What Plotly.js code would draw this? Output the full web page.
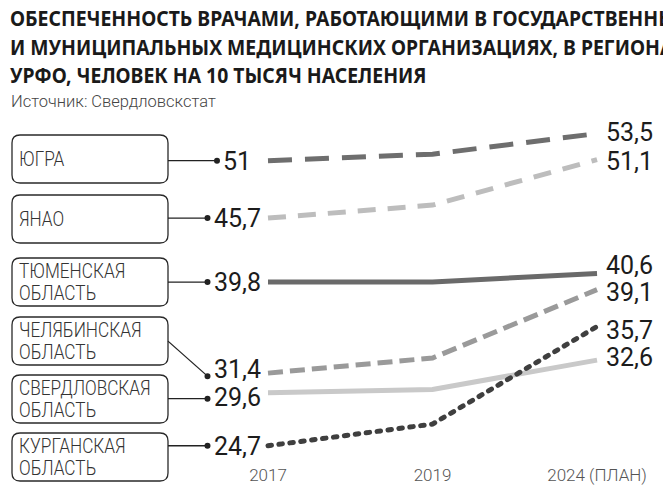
<!DOCTYPE html>
<html>
<head>
<meta charset="utf-8">
<script src="https://cdn.plot.ly/plotly-3.0.1.min.js"></script>
<style>
html,body{margin:0;padding:0;background:#fff;overflow:hidden;}
#chart{width:663px;height:491px;}
</style>
</head>
<body>
<div id="chart"></div>
<script>
// ---- data ----
var years = ['2017', '2019', '2024 (ПЛАН)'];
var regions = ['ЮГРА', 'ЯНАО', 'ТЮМЕНСКАЯ ОБЛАСТЬ', 'ЧЕЛЯБИНСКАЯ ОБЛАСТЬ', 'СВЕРДЛОВСКАЯ ОБЛАСТЬ', 'КУРГАНСКАЯ ОБЛАСТЬ'];
var ugra = [51, 51.6, 53.5];
var yanao = [45.7, 46.9, 51.1];
var tyumen = [39.8, 39.8, 40.6];
var chelyabinsk = [31.4, 32.8, 39.1];
var sverdlovsk = [29.6, 29.9, 32.6];
var kurgan = [24.7, 26.7, 35.7];
var titleText = 'ОБЕСПЕЧЕННОСТЬ ВРАЧАМИ, РАБОТАЮЩИМИ В ГОСУДАРСТВЕННЫХ<br>И МУНИЦИПАЛЬНЫХ МЕДИЦИНСКИХ ОРГАНИЗАЦИЯХ, В РЕГИОНАХ<br>УРФО, ЧЕЛОВЕК НА 10 ТЫСЯЧ НАСЕЛЕНИЯ';
var sourceText = 'Источник: Свердловскстат';

// ---- styles / layout helpers ----
var series = [ugra, yanao, tyumen, chelyabinsk, sverdlovsk, kurgan];
var colors = ['#6e6e6e', '#bdbdbd', '#6a6a6a', '#9a9a9a', '#c9c9c9', '#3f3f3f'];
var dashes = ['24px,13px', '18px,12px', 'solid', '15px,7px', 'solid', '3.5px,7.5px'];
var shift2017 = [0, 0, 0, 4, -4.5, 0];
var dotShift2017 = [0, 0, 0, -3, -6, 0];
var shift2019 = [17, 15, 16, 20, -12, -18];
var shift2024 = [2, -1, 8, -2, 3, -3];
var boxTops = [135, 195, 258, 317, 375, 433];
var connectorRise = [0, 0, 0, 32, 0, 0];

var W = 663, H = 491, MB = 28, PH = H - MB;
function px(x) { return x / W; }
function py(y) { return 1 - y / PH; }
function fmt(v) { return String(v).replace('.', ','); }

var numFont = {family: 'Roboto, sans-serif', size: 25, color: '#1c1c1c'};

var traces = series.map(function (s, i) {
  return {
    x: years, y: s, type: 'scatter', mode: 'lines',
    line: {color: colors[i], width: 5, dash: dashes[i]},
    hoverinfo: 'skip', showlegend: false
  };
});

var shapes = [], annotations = [], condensedIdx = [];
var L = 12, R = 168, BH = 48, RAD = 8;
boxTops.forEach(function (t, i) {
  var b = t + BH;
  var path = 'M' + px(L + RAD) + ',' + py(t) +
    ' L' + px(R - RAD) + ',' + py(t) +
    ' Q' + px(R) + ',' + py(t) + ' ' + px(R) + ',' + py(t + RAD) +
    ' L' + px(R) + ',' + py(b - RAD) +
    ' Q' + px(R) + ',' + py(b) + ' ' + px(R - RAD) + ',' + py(b) +
    ' L' + px(L + RAD) + ',' + py(b) +
    ' Q' + px(L) + ',' + py(b) + ' ' + px(L) + ',' + py(b - RAD) +
    ' L' + px(L) + ',' + py(t + RAD) +
    ' Q' + px(L) + ',' + py(t) + ' ' + px(L + RAD) + ',' + py(t) + ' Z';
  shapes.push({type: 'path', xref: 'paper', yref: 'paper', path: path,
    line: {color: '#2a2a2a', width: 1.3}, fillcolor: 'rgba(0,0,0,0)', layer: 'above'});
  var words = regions[i].split(' ');
  var cy = t + BH / 2;
  words.forEach(function (w, k) {
    var yy = words.length === 1 ? cy : cy + (k === 0 ? -11 : 11);
    condensedIdx.push(annotations.length);
    annotations.push({xref: 'paper', yref: 'paper', x: px(17), y: py(yy), text: w,
      showarrow: false, xanchor: 'left', yanchor: 'middle',
      font: {family: 'Roboto, sans-serif', size: 20, color: '#333', weight: 300}});
  });
});

series.forEach(function (s, i) {
  var v0 = s[0];
  var label = fmt(v0);
  var w = 0;
  for (var c = 0; c < label.length; c++) w += label[c] === ',' ? 5 : 14;
  var cx = 237;
  var dotX = cx - w / 2 - 6;
  var ds = dotShift2017[i];
  shapes.push({type: 'line', xref: 'paper', yref: 'y', ysizemode: 'pixel', yanchor: v0,
    x0: px(R), x1: px(dotX), y0: connectorRise[i] + (connectorRise[i] ? 0 : ds), y1: ds,
    line: {color: '#222', width: 1.3}});
  shapes.push({type: 'circle', xref: 'paper', yref: 'y', xsizemode: 'pixel', ysizemode: 'pixel',
    xanchor: px(dotX), yanchor: v0, x0: -3, x1: 3, y0: -3 + ds, y1: 3 + ds,
    fillcolor: '#222', line: {width: 0}});
  annotations.push({xref: 'paper', yref: 'y', x: px(cx), y: v0, text: label, showarrow: false,
    xanchor: 'center', yanchor: 'middle', yshift: shift2017[i], height: 24, font: numFont});
  annotations.push({xref: 'x', yref: 'y', x: years[1], y: s[1], text: fmt(s[1]), showarrow: false,
    xanchor: 'center', yanchor: 'middle', yshift: shift2019[i], height: 24, font: numFont});
  annotations.push({xref: 'x', yref: 'y', x: years[2], y: s[2], text: fmt(s[2]), showarrow: false,
    xanchor: 'left', yanchor: 'middle', xshift: 7, yshift: shift2024[i], height: 24, font: numFont});
});

annotations.push({xref: 'paper', yref: 'paper', x: px(9), y: py(102), text: sourceText,
  showarrow: false, xanchor: 'left', yanchor: 'middle',
  font: {family: 'Roboto, sans-serif', size: 16.5, color: '#444', weight: 300}});

var layout = {
  width: W, height: H,
  margin: {l: 0, r: 0, t: 0, b: MB, pad: 0},
  paper_bgcolor: '#fff', plot_bgcolor: '#fff',
  title: {text: titleText, x: px(10), xref: 'container', xanchor: 'left',
    y: 1, yref: 'container', yanchor: 'top', pad: {t: 26},
    font: {family: "'Noto Sans', sans-serif", size: 22, color: '#1a1a1a', weight: 700}},
  xaxis: {type: 'category', range: [-1.629, 2.401], showgrid: false, zeroline: false,
    showline: false, ticks: '', fixedrange: true,
    tickfont: {family: 'Roboto, sans-serif', size: 17, color: '#555', weight: 300}},
  yaxis: {range: [23.11, 65.82], visible: false, fixedrange: true},
  shapes: shapes,
  annotations: annotations,
  showlegend: false
};

function squeeze(el, s) {
  var bb = el.getBBox();
  var tr = el.getAttribute('transform') || '';
  el.setAttribute('transform', tr + ' translate(' + bb.x + ',0) scale(' + s + ',1) translate(' + (-bb.x) + ',0)');
}

Plotly.newPlot('chart', traces, layout, {staticPlot: true, displayModeBar: false}).then(function (gd) {
  var paths = document.querySelectorAll('.scatterlayer .trace path.js-line');
  if (paths[5]) paths[5].style.strokeLinecap = 'round';
  var t = document.querySelector('.gtitle');
  if (t) {
    var tr = t.getAttribute('transform') || '';
    t.setAttribute('transform', tr + ' translate(10,0) scale(0.88,1) translate(-10,0)');
  }
  condensedIdx.forEach(function (idx) {
    var g = document.querySelector('.annotation[data-index="' + idx + '"] text.annotation-text');
    if (g) squeeze(g, 0.86);
  });
});
</script>
</body>
</html>
